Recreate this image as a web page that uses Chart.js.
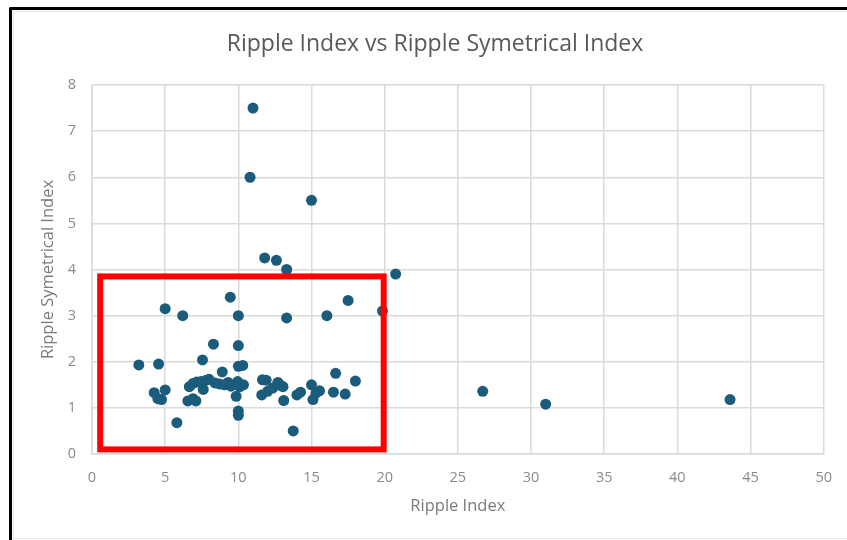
<!DOCTYPE html>
<html>
<head>
<meta charset="utf-8">
<script src="https://cdn.jsdelivr.net/npm/chart.js@4.4.1/dist/chart.umd.min.js"></script>
<style>
  html, body { margin: 0; padding: 0; background: #ffffff; }
  #wrap { position: relative; width: 847px; height: 540px; overflow: hidden; }
  #frame {
    position: absolute; left: 9px; top: 7px; width: 900px; height: 600px;
    border-left: 3.5px solid #000; border-top: 3.5px solid #000;
    border-top-left-radius: 2px; pointer-events: none;
  }
  #inner {
    position: absolute; left: 13px; top: 11px; width: 900px; height: 526px;
    border: 1px solid #e6e6e6; pointer-events: none;
  }
  canvas { position: absolute; left: 0; top: 0; }
</style>
</head>
<body>
<div id="wrap">
  <canvas id="c" width="847" height="540"></canvas>
  <div id="inner"></div>
  <div id="frame"></div>
</div>
<script>
// Ripple Index (x) and Ripple Symetrical Index (y), one entry per sample
const rippleIndex = [
  11.0, 10.8, 15.0, 11.8, 12.6, 13.3, 20.75,
  5.0, 6.2, 9.45, 10.0, 13.3, 16.05, 17.5, 19.85,
  8.3, 10.0,
  3.2, 4.55, 7.55, 10.0, 10.3, 8.9,
  4.25, 5.0, 4.5, 4.75, 6.55, 6.9, 7.1,
  6.65, 6.9, 7.15, 7.45, 7.6, 7.8, 8.0, 8.4, 8.7, 9.05, 9.3, 9.5, 9.95, 10.1, 10.35,
  9.85, 10.0, 10.0, 5.8,
  11.65, 11.9, 11.6, 12.0, 12.35, 12.7, 12.9, 13.05, 13.1, 13.75, 14.0, 14.25,
  15.0, 15.1, 15.3, 15.55, 16.5, 16.65, 17.3, 18.0,
  26.7, 31.0, 43.6
];
const rippleSymIndex = [
  7.5, 6.0, 5.5, 4.25, 4.2, 4.0, 3.9,
  3.15, 3.0, 3.4, 3.0, 2.95, 3.0, 3.33, 3.1,
  2.38, 2.35,
  1.93, 1.95, 2.04, 1.9, 1.92, 1.78,
  1.33, 1.39, 1.2, 1.18, 1.15, 1.2, 1.15,
  1.46, 1.53, 1.56, 1.57, 1.4, 1.6, 1.62, 1.54, 1.52, 1.5, 1.55, 1.47, 1.57, 1.46, 1.5,
  1.25, 0.93, 0.84, 0.68,
  1.61, 1.6, 1.28, 1.36, 1.43, 1.55, 1.49, 1.46, 1.16, 0.5, 1.28, 1.34,
  1.5, 1.18, 1.32, 1.37, 1.34, 1.75, 1.3, 1.58,
  1.36, 1.08, 1.18
];
const xTicks = [0, 5, 10, 15, 20, 25, 30, 35, 40, 45, 50];
const yTicks = [0, 1, 2, 3, 4, 5, 6, 7, 8];
const chartTitle = 'Ripple Index vs Ripple Symetrical Index';
// highlighted region, in data units: [xMin, xMax, yMin, yMax]
const highlightRegion = [0.56, 19.93, 0.1, 3.85];

const points = rippleIndex.map((x, i) => ({ x: x, y: rippleSymIndex[i] }));

const FONT = "'Open Sans', 'Liberation Sans', sans-serif";
const GREY = '#8a8a8a';

// red outline around the low-index cluster
const highlightPlugin = {
  id: 'highlightBox',
  afterDatasetsDraw(chart) {
    const { ctx, scales } = chart;
    const x0 = scales.x.getPixelForValue(highlightRegion[0]);
    const x1 = scales.x.getPixelForValue(highlightRegion[1]);
    const y0 = scales.y.getPixelForValue(highlightRegion[2]);
    const y1 = scales.y.getPixelForValue(highlightRegion[3]);
    ctx.save();
    ctx.strokeStyle = '#ff0000';
    ctx.lineWidth = 6;
    ctx.strokeRect(x0, y1, x1 - x0, y0 - y1);
    ctx.restore();
  }
};

// chart heading, centred over the framed panel
const headingPlugin = {
  id: 'heading',
  afterDraw(chart) {
    const { ctx } = chart;
    ctx.save();
    ctx.fillStyle = '#595959';
    ctx.font = "23px " + FONT;
    ctx.textAlign = 'center';
    ctx.textBaseline = 'middle';
    ctx.fillText(chartTitle, 435, 44);
    ctx.restore();
  }
};

new Chart(document.getElementById('c'), {
  type: 'scatter',
  data: {
    datasets: [{
      label: 'Ripple Symetrical Index',
      data: points,
      backgroundColor: '#1b5c7d',
      borderColor: '#1b5c7d',
      borderWidth: 0,
      pointRadius: 5.5,
      pointHoverRadius: 5.5
    }]
  },
  options: {
    responsive: false,
    animation: false,
    devicePixelRatio: 1,
    layout: { padding: { left: 0, right: 21, top: 85, bottom: 0 } },
    plugins: {
      legend: { display: false },
      tooltip: { enabled: false },
      title: { display: false }
    },
    scales: {
      x: {
        type: 'linear',
        min: 0, max: 50,
        afterBuildTicks(scale) { scale.ticks = xTicks.map(v => ({ value: v })); },
        afterFit(scale) { scale.height = 86; },
        grid: { color: '#dadada', lineWidth: 1.5, drawTicks: false },
        border: { color: '#dadada', width: 1.5 },
        ticks: { color: GREY, font: { family: FONT, size: 14.5 }, padding: 15, maxRotation: 0 },
        title: {
          display: true, text: 'Ripple Index', color: '#7a7a7a',
          font: { family: FONT, size: 16.5 }, padding: { top: 0, bottom: 24 }
        }
      },
      y: {
        type: 'linear',
        min: 0, max: 8,
        afterBuildTicks(scale) { scale.ticks = yTicks.map(v => ({ value: v })); },
        afterFit(scale) { scale.width = 92; },
        grid: { color: '#dadada', lineWidth: 1.5, drawTicks: false },
        border: { color: '#dadada', width: 1.5 },
        ticks: { color: GREY, font: { family: FONT, size: 14.5 }, padding: 16 },
        title: {
          display: true, text: 'Ripple Symetrical Index', color: '#7a7a7a',
          font: { family: FONT, size: 16.5 }, padding: { top: 38, bottom: 0 }
        }
      }
    }
  },
  plugins: [highlightPlugin, headingPlugin]
});
</script>
</body>
</html>
